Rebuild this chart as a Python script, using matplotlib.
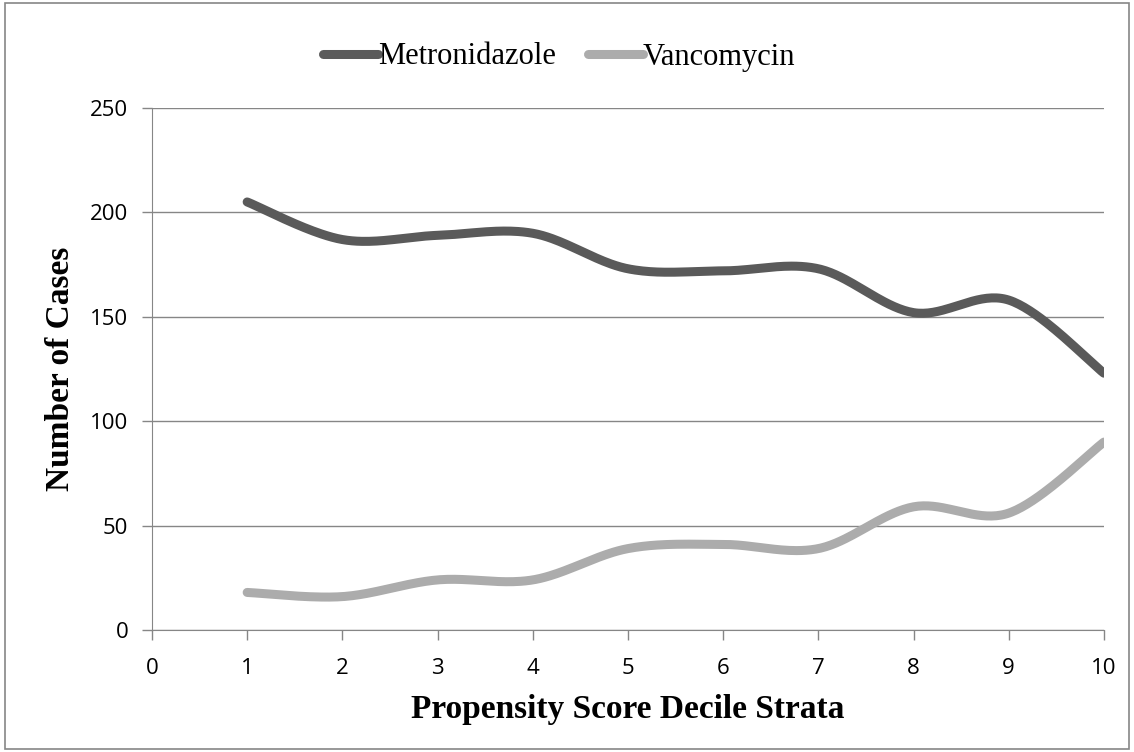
import numpy as np
import matplotlib.pyplot as plt
from matplotlib.patches import Rectangle

deciles = [1, 2, 3, 4, 5, 6, 7, 8, 9, 10]
metronidazole = [205, 187, 189, 190, 173, 172, 173, 152, 158, 123]
vancomycin = [18, 16, 24, 24, 39, 41, 39, 59, 56, 90]


def smooth(xs, ys, n=40):
    # Excel-style smoothed line: cubic Bezier with Catmull-Rom control points
    x = np.asarray(xs, float)
    y = np.asarray(ys, float)
    px, py = [], []
    t = np.linspace(0, 1, n)
    for i in range(len(x) - 1):
        i0 = max(i - 1, 0)
        i3 = min(i + 2, len(x) - 1)
        c1x = x[i] + (x[i + 1] - x[i0]) / 6
        c1y = y[i] + (y[i + 1] - y[i0]) / 6
        c2x = x[i + 1] - (x[i3] - x[i]) / 6
        c2y = y[i + 1] - (y[i3] - y[i]) / 6
        bx = (1 - t) ** 3 * x[i] + 3 * (1 - t) ** 2 * t * c1x + 3 * (1 - t) * t ** 2 * c2x + t ** 3 * x[i + 1]
        by = (1 - t) ** 3 * y[i] + 3 * (1 - t) ** 2 * t * c1y + 3 * (1 - t) * t ** 2 * c2y + t ** 3 * y[i + 1]
        px.extend(bx)
        py.extend(by)
    return px, py


fig = plt.figure(figsize=(11.34, 7.52), dpi=100)
fig.patches.append(Rectangle((0.004, 0.004), 0.992, 0.992, transform=fig.transFigure,
                             fill=False, edgecolor='#868686', linewidth=1.2))
ax = fig.add_axes([0.134, 0.1622, 0.8395, 0.6942])

mx, my = smooth(deciles, metronidazole)
vx, vy = smooth(deciles, vancomycin)
ax.plot(mx, my, color='#5a5a5a', linewidth=6.5, solid_capstyle='round', label='Metronidazole', zorder=3)
ax.plot(vx, vy, color='#acacac', linewidth=6.5, solid_capstyle='round', label='Vancomycin', zorder=3)

ax.set_xlim(0, 10)
ax.set_ylim(0, 250)
ax.set_xticks(range(0, 11))
ax.set_yticks(range(0, 251, 50))
ax.yaxis.grid(True, color='#868686', linewidth=1)
for s in ['top', 'right']:
    ax.spines[s].set_visible(False)
for s in ['left', 'bottom']:
    ax.spines[s].set_color('#868686')
ax.tick_params(colors='#868686', labelcolor='black', length=7, width=1,
               labelsize=16, pad=10)
ax.tick_params(axis='x', pad=13)
for lab in ax.get_xticklabels() + ax.get_yticklabels():
    lab.set_family('Open Sans')

ax.set_xlabel('Propensity Score Decile Strata', family='Liberation Serif',
              fontsize=24, fontweight='bold', labelpad=11)
ax.set_ylabel('Number of Cases', family='Liberation Serif',
              fontsize=24, fontweight='bold', labelpad=10)

leg = ax.legend(loc='center left', bbox_to_anchor=(323 / 1134, 1 - 57 / 752),
                bbox_transform=fig.transFigure, ncol=2, frameon=False,
                prop={'family': 'Liberation Serif', 'size': 22},
                handlelength=1.8, handletextpad=0.0, columnspacing=1.05,
                borderpad=0, borderaxespad=0)

fig.savefig('out.png', dpi=100)
